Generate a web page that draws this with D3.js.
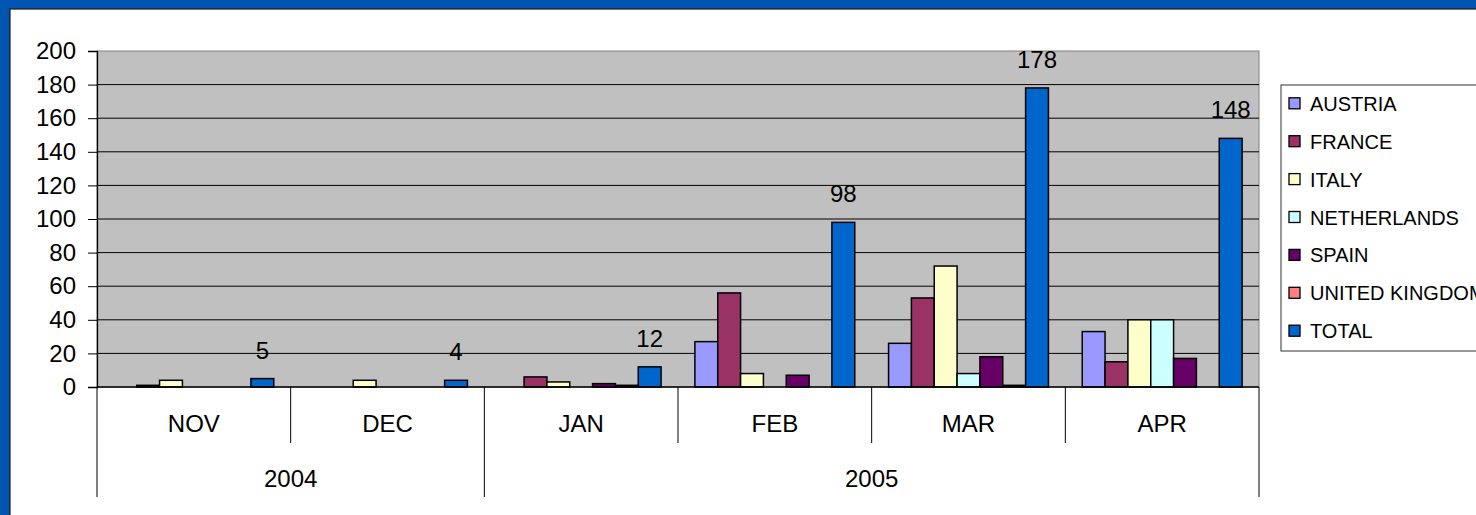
<!DOCTYPE html>
<html>
<head>
<meta charset="utf-8">
<script src="https://cdn.jsdelivr.net/npm/d3@7"></script>
<style>
  body { margin: 0; background: #0055b0; }
  svg { display: block; font-family: "Liberation Sans", Arial, sans-serif; }
</style>
</head>
<body>
<svg id="chart" width="1476" height="515"></svg>
<script>
// Chart data
const months = ["NOV", "DEC", "JAN", "FEB", "MAR", "APR"];
const monthYears = ["2004", "2004", "2005", "2005", "2005", "2005"];
const seriesNames = ["AUSTRIA", "FRANCE", "ITALY", "NETHERLANDS", "SPAIN", "UNITED KINGDOM", "TOTAL"];
const austria = [0, 0, 0, 27, 26, 33];
const france = [1, 0, 6, 56, 53, 15];
const italy = [4, 4, 3, 8, 72, 40];
const netherlands = [0, 0, 0, 0, 8, 40];
const spain = [0, 0, 2, 7, 18, 17];
const unitedKingdom = [0, 0, 1, 0, 1, 0];
const total = [5, 4, 12, 98, 178, 148];
const yTicks = [0, 20, 40, 60, 80, 100, 120, 140, 160, 180, 200];

const seriesValues = [austria, france, italy, netherlands, spain, unitedKingdom, total];
const seriesColors = ["#9999ff", "#993366", "#ffffcc", "#ccffff", "#660066", "#ff8080", "#0066cc"];

const svg = d3.select("#chart");

// White panel inside the blue frame
svg.append("rect")
  .attr("x", 10).attr("y", 9)
  .attr("width", 1476).attr("height", 515)
  .attr("fill", "#ffffff")
  .attr("stroke", "#1a1a1a")
  .attr("stroke-width", 1.2);

const plot = { left: 97, right: 1259, top: 51, bottom: 387 };

// Scales
const xMonth = d3.scaleBand()
  .domain(months)
  .range([plot.left, plot.right])
  .padding(0);

const xSeries = d3.scaleBand()
  .domain(seriesNames)
  .range([0, xMonth.bandwidth()])
  .paddingInner(0)
  .paddingOuter(0.74);

const y = d3.scaleLinear()
  .domain([0, 200])
  .range([plot.bottom, plot.top]);

// Plot background
svg.append("rect")
  .attr("x", plot.left).attr("y", plot.top)
  .attr("width", plot.right - plot.left)
  .attr("height", plot.bottom - plot.top)
  .attr("fill", "#c0c0c0")
  .attr("stroke", "#808080")
  .attr("stroke-width", 1);

// Gridlines
svg.append("g")
  .selectAll("line")
  .data(yTicks.filter(d => d > 0 && d < 200))
  .join("line")
  .attr("x1", plot.left).attr("x2", plot.right)
  .attr("y1", d => y(d)).attr("y2", d => y(d))
  .attr("stroke", "#000")
  .attr("stroke-width", 1);

// Y axis
const yAxis = svg.append("g")
  .attr("transform", `translate(${plot.left},0)`)
  .call(d3.axisLeft(y).tickValues(yTicks).tickSize(9).tickPadding(12));
yAxis.select(".domain").attr("stroke", "#000").attr("stroke-width", 1.3);
yAxis.selectAll(".tick line").attr("stroke", "#000");
yAxis.selectAll(".tick text")
  .attr("font-size", "24px")
  .attr("font-family", "'Liberation Sans', Arial, sans-serif")
  .attr("fill", "#000");

// Bars
const groups = svg.append("g")
  .selectAll("g")
  .data(months)
  .join("g")
  .attr("transform", d => `translate(${xMonth(d)},0)`);

groups.selectAll("rect")
  .data((m, i) => seriesNames.map((s, j) => ({ series: s, value: seriesValues[j][i], color: seriesColors[j] })))
  .join("rect")
  .filter(d => d.value > 0)
  .attr("x", d => xSeries(d.series))
  .attr("y", d => y(d.value))
  .attr("width", xSeries.bandwidth())
  .attr("height", d => y(0) - y(d.value))
  .attr("fill", d => d.color)
  .attr("stroke", "#000")
  .attr("stroke-width", 1.5);

// Data labels on TOTAL
svg.append("g")
  .selectAll("text")
  .data(months)
  .join("text")
  .attr("x", d => xMonth(d) + xSeries("TOTAL") + xSeries.bandwidth() / 2)
  .attr("y", (d, i) => y(total[i]) - 20)
  .attr("text-anchor", "middle")
  .attr("font-size", "24px")
  .attr("fill", "#000")
  .text((d, i) => total[i]);

// X axis baseline
svg.append("line")
  .attr("x1", plot.left).attr("x2", plot.right)
  .attr("y1", y(0)).attr("y2", y(0))
  .attr("stroke", "#000")
  .attr("stroke-width", 1.3);

// Month dividers and labels
const monthRow = 443, yearRow = 497;
const years = Array.from(new Set(monthYears));
const yearStarts = years.map(yr => monthYears.indexOf(yr));
const boundaries = d3.range(months.length + 1);

svg.append("g")
  .selectAll("line")
  .data(boundaries)
  .join("line")
  .attr("x1", i => i < months.length ? xMonth(months[i]) : plot.right)
  .attr("x2", i => i < months.length ? xMonth(months[i]) : plot.right)
  .attr("y1", y(0))
  .attr("y2", i => (i === months.length || yearStarts.includes(i)) ? yearRow : monthRow)
  .attr("stroke", "#000")
  .attr("stroke-width", 1);

svg.append("g")
  .selectAll("text")
  .data(months)
  .join("text")
  .attr("x", d => xMonth(d) + xMonth.bandwidth() / 2)
  .attr("y", 432)
  .attr("text-anchor", "middle")
  .attr("font-size", "24px")
  .attr("fill", "#000")
  .text(d => d);

// Year labels
svg.append("g")
  .selectAll("text")
  .data(years)
  .join("text")
  .attr("x", yr => {
    const idx = months.filter((m, i) => monthYears[i] === yr);
    return (xMonth(idx[0]) + xMonth(idx[idx.length - 1]) + xMonth.bandwidth()) / 2;
  })
  .attr("y", 487)
  .attr("text-anchor", "middle")
  .attr("font-size", "24px")
  .attr("fill", "#000")
  .text(d => d);

// Legend
const legend = svg.append("g").attr("transform", "translate(1281,85)");
legend.append("rect")
  .attr("width", 220).attr("height", 266)
  .attr("fill", "#fff")
  .attr("stroke", "#333")
  .attr("stroke-width", 1);

const items = legend.selectAll("g.item")
  .data(seriesNames)
  .join("g")
  .attr("class", "item")
  .attr("transform", (d, i) => `translate(0,${18.3 + i * 37.9})`);

items.append("rect")
  .attr("x", 8).attr("y", -5.5)
  .attr("width", 11).attr("height", 11)
  .attr("fill", (d, i) => seriesColors[i])
  .attr("stroke", "#000")
  .attr("stroke-width", 1.3);

items.append("text")
  .attr("x", 29)
  .attr("y", 7.5)
  .attr("font-size", "20px")
  .attr("fill", "#000")
  .text(d => d);
</script>
</body>
</html>
